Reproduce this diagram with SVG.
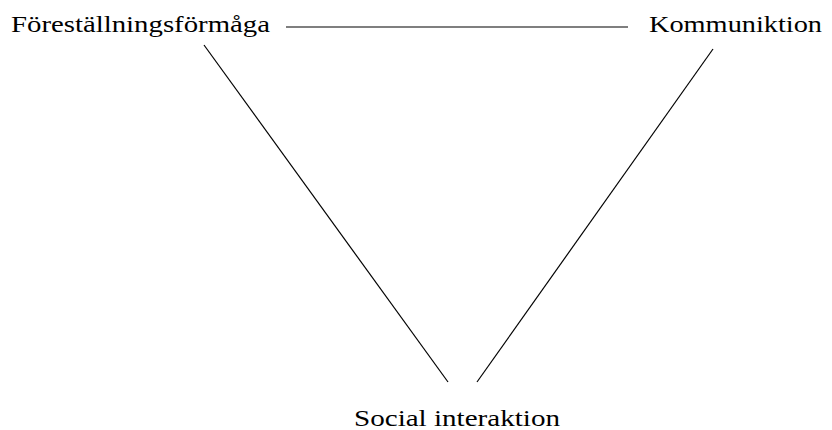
<svg xmlns="http://www.w3.org/2000/svg" width="832" height="430" viewBox="0 0 832 430">
<style>
.lbl{font-family:"Liberation Serif","Times New Roman",serif;font-size:24px;fill:#000}
.ln{stroke:#000;stroke-width:1.2;fill:none}
</style>
<rect width="832" height="430" fill="#fff"/>
<g id="connectors">
<line class="ln" x1="286" y1="27" x2="628" y2="27"/>
<line class="ln" x1="204" y1="45" x2="448" y2="382"/>
<line class="ln" x1="713" y1="49" x2="477" y2="382"/>
</g>
<g id="node-forestallningsformaga">
<text class="lbl" x="11" y="32" textLength="259" lengthAdjust="spacingAndGlyphs">Föreställningsförmåga</text>
</g>
<g id="node-kommuniktion">
<text class="lbl" x="649" y="32" textLength="173" lengthAdjust="spacingAndGlyphs">Kommuniktion</text>
</g>
<g id="node-social-interaktion">
<text class="lbl" x="354" y="426" textLength="206" lengthAdjust="spacingAndGlyphs">Social interaktion</text>
</g>
</svg>
